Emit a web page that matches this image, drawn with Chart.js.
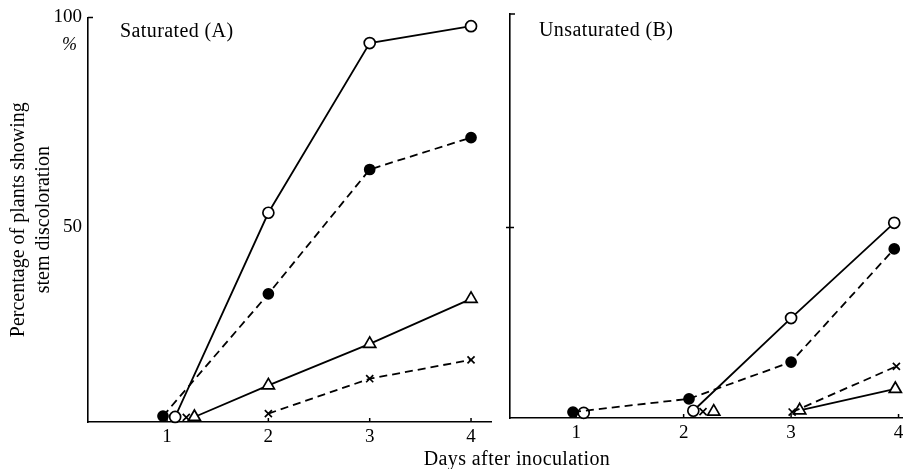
<!DOCTYPE html>
<html>
<head>
<meta charset="utf-8">
<script src="https://cdn.jsdelivr.net/npm/chart.js@4"></script>
<style>
  html, body { margin: 0; padding: 0; background: #fff; }
  #wrap { position: relative; width: 911px; height: 469px; font-family: 'Liberation Serif', 'DejaVu Serif', serif; color: #000; }
  .pane { position: absolute; top: 0; height: 469px; }
  #paneA { left: 0; width: 500px; }
  #paneB { left: 500px; width: 411px; }
  .lbl { position: absolute; font-size: 20px; line-height: 20px; white-space: nowrap; letter-spacing: 0.4px; }
</style>
</head>
<body>
<div id="wrap">
  <div class="pane" id="paneA"><canvas id="chartA"></canvas></div>
  <div class="pane" id="paneB"><canvas id="chartB"></canvas></div>
  <div class="lbl" style="left:120px;top:20px">Saturated (A)</div>
  <div class="lbl" style="left:539px;top:19px">Unsaturated (B)</div>
  <div class="lbl" style="left:62px;top:34px;font-size:18px;font-style:italic">%</div>
  <div class="lbl" style="left:517px;top:448px;transform:translateX(-50%)">Days after inoculation</div>
</div>
<script>
const dayTicks = [1, 2, 3, 4];
const pctTicks = [50, 100];

// Saturated (A) – x = days after inoculation, y = % plants
const satOpen   = [{x: 1.08, y: 4.9}, {x: 2, y: 53.5}, {x: 3, y: 93.9}, {x: 4, y: 97.9}];
const satFilled = [{x: 0.96, y: 5.1}, {x: 2, y: 34.2}, {x: 3, y: 63.8}, {x: 4, y: 71.4}];
const satTri    = [{x: 1.27, y: 4.9}, {x: 2, y: 12.4}, {x: 3, y: 22.3}, {x: 4, y: 33.0}];
const satCross  = [{x: 1.19, y: 4.8}, {x: 2, y: 5.7}, {x: 3, y: 14.0}, {x: 4, y: 18.5}];

// Unsaturated (B)
const unsOpen   = [{x: 1.07, y: 6.6}, {x: 2.09, y: 7.1}, {x: 3, y: 28.8}, {x: 3.96, y: 51.1}];
const unsFilled = [{x: 0.97, y: 6.8}, {x: 2.05, y: 9.9}, {x: 3, y: 18.5}, {x: 3.96, y: 45.0}];
const unsTri    = [{x: 2.28, y: 6.9}, {x: 3.08, y: 7.2}, {x: 3.97, y: 12.2}];
const unsCross  = [{x: 2.18, y: 6.9}, {x: 3.01, y: 6.8}, {x: 3.98, y: 17.5}];

const ink = '#000';
const serif = "'Liberation Serif', 'DejaVu Serif', serif";

// lines are not drawn along the baseline
const baseLevel = 8;
function hideBase(ctx) {
  return (ctx.p0.parsed.y < baseLevel && ctx.p1.parsed.y < baseLevel) ? 'rgba(0,0,0,0)' : undefined;
}

const markers = {
  open:   { pointStyle: 'circle', pointRadius: 5.5, pointBackgroundColor: '#fff', dash: [] },
  filled: { pointStyle: 'circle', pointRadius: 5, pointBackgroundColor: ink, dash: [8, 5] },
  tri:    { pointStyle: 'triangle', pointRadius: 7, pointBackgroundColor: '#fff', dash: [] },
  cross:  { pointStyle: 'crossRot', pointRadius: 5, pointBackgroundColor: ink, dash: [8, 5] }
};

function series(data, kind) {
  const m = markers[kind];
  return {
    data: data,
    borderColor: ink,
    borderWidth: 1.8,
    borderDash: m.dash,
    pointStyle: m.pointStyle,
    pointRadius: m.pointRadius,
    pointBorderColor: ink,
    pointBorderWidth: 1.7,
    pointBackgroundColor: m.pointBackgroundColor,
    tension: 0,
    clip: false,
    segment: { borderColor: hideBase }
  };
}

const axisMarks = {
  id: 'axisMarks',
  afterDraw(chart, args, opts) {
    const { ctx, chartArea: a, scales: { x, y } } = chart;
    ctx.save();
    ctx.strokeStyle = ink;
    ctx.lineWidth = 1.5;
    ctx.beginPath();
    ctx.moveTo(a.left, a.top);
    ctx.lineTo(a.left + 5, a.top);
    dayTicks.forEach(d => {
      const px = x.getPixelForValue(d);
      ctx.moveTo(px, a.bottom);
      ctx.lineTo(px, a.bottom - 4);
    });
    if (opts.midTick) {
      const py = y.getPixelForValue(50);
      ctx.moveTo(a.left - 4, py);
      ctx.lineTo(a.left + 4, py);
    }
    ctx.stroke();
    ctx.restore();
  }
};

function panel(id, sets, cfg) {
  return new Chart(document.getElementById(id), {
    type: 'line',
    data: {
      datasets: [
        series(sets.filled, 'filled'),
        series(sets.cross, 'cross'),
        series(sets.tri, 'tri'),
        series(sets.open, 'open')
      ]
    },
    options: {
      responsive: true,
      maintainAspectRatio: false,
      animation: false,
      layout: { padding: { top: cfg.top, right: cfg.right, left: 0, bottom: 0 } },
      plugins: {
        legend: { display: false },
        tooltip: { enabled: false },
        axisMarks: { midTick: cfg.midTick }
      },
      scales: {
        x: {
          type: 'linear',
          min: cfg.xMin,
          max: cfg.xMax,
          afterBuildTicks: s => { s.ticks = dayTicks.map(v => ({ value: v })); },
          afterFit: s => { s.height = cfg.xh; },
          grid: { display: false, drawTicks: false },
          border: { display: true, color: ink, width: 1.6 },
          ticks: { color: ink, font: { family: serif, size: 19 }, padding: 4 }
        },
        y: {
          type: 'linear',
          min: cfg.yMin,
          max: 100,
          afterBuildTicks: s => { s.ticks = pctTicks.map(v => ({ value: v })); },
          afterFit: s => { s.width = cfg.yw; },
          grid: { display: false, drawTicks: false },
          border: { display: true, color: ink, width: 1.6 },
          ticks: { display: cfg.yLabels, color: ink, font: { family: serif, size: 19 }, padding: 6 },
          title: {
            display: cfg.yLabels,
            text: ['Percentage of plants showing', 'stem discoloration'],
            color: ink,
            font: { family: serif, size: 20, lineHeight: 1.25 },
            padding: { top: 6 }
          }
        }
      }
    },
    plugins: [axisMarks]
  });
}

panel('chartA',
  { open: satOpen, filled: satFilled, tri: satTri, cross: satCross },
  { top: 16, right: 8, xh: 47, yw: 88, xMin: 0.22, xMax: 4.2, yMin: 3.7, yLabels: true, midTick: false });

panel('chartB',
  { open: unsOpen, filled: unsFilled, tri: unsTri, cross: unsCross },
  { top: 14, right: 2, xh: 51, yw: 10, xMin: 0.384, xMax: 4.035, yMin: 5.4, yLabels: false, midTick: true });
</script>
</body>
</html>
